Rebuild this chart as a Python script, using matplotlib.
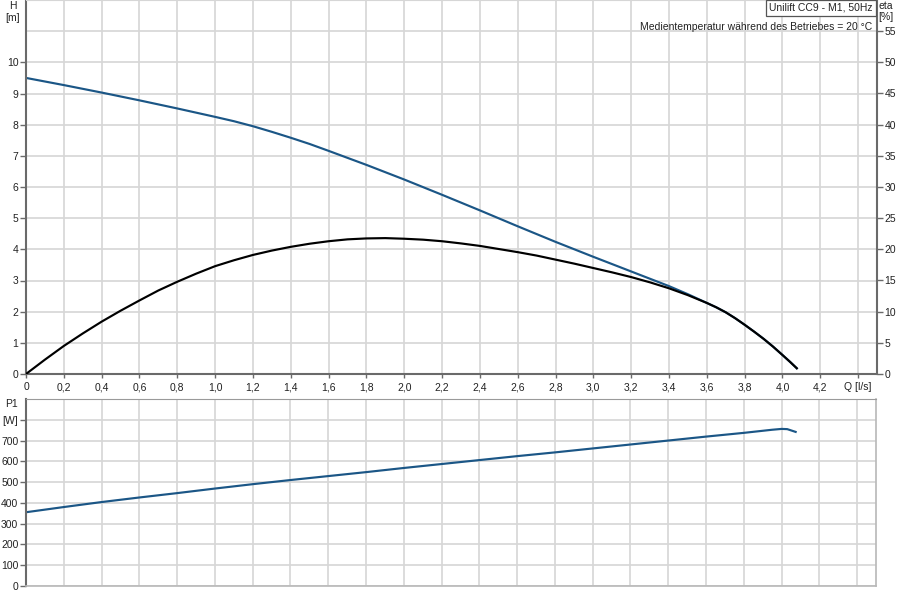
import matplotlib
matplotlib.use('Agg')
import matplotlib.pyplot as plt
import numpy as np

# ---------------- data ----------------
q_h = [0, 0.2, 0.4, 0.6, 0.8, 1.0, 1.1, 1.2, 1.3, 1.4, 1.5, 1.6, 1.8, 2.0,
       2.2, 2.4, 2.6, 2.8, 3.0, 3.2, 3.4, 3.5, 3.6, 3.65, 3.7, 3.75, 3.8,
       3.85, 3.9, 3.95, 4.0, 4.04, 4.08]
h_m = [9.5, 9.27, 9.03, 8.78, 8.52, 8.25, 8.11, 7.95, 7.77, 7.58, 7.38, 7.16,
       6.71, 6.24, 5.75, 5.25, 4.74, 4.24, 3.76, 3.29, 2.82, 2.56, 2.28, 2.14,
       1.98, 1.79, 1.58, 1.36, 1.13, 0.88, 0.61, 0.39, 0.16]

q_eta = [0, 0.1, 0.2, 0.3, 0.4, 0.5, 0.6, 0.7, 0.8, 0.9, 1.0, 1.1, 1.2, 1.3,
         1.4, 1.5, 1.6, 1.7, 1.8, 1.9, 2.0, 2.1, 2.2, 2.3, 2.4, 2.5, 2.6, 2.7,
         2.8, 2.9, 3.0, 3.1, 3.2, 3.3, 3.4, 3.5, 3.6, 3.65, 3.7, 3.75, 3.8,
         3.85, 3.9, 3.95, 4.0, 4.04, 4.08]
eta_pct = [0, 2.3, 4.5, 6.5, 8.4, 10.15, 11.8, 13.4, 14.8, 16.1, 17.3, 18.25,
           19.1, 19.8, 20.4, 20.9, 21.3, 21.6, 21.75, 21.8, 21.7, 21.55, 21.3,
           20.95, 20.55, 20.05, 19.55, 19.0, 18.35, 17.7, 17.0, 16.3, 15.55,
           14.7, 13.75, 12.65, 11.4, 10.7, 9.9, 8.95, 7.9, 6.8, 5.65, 4.4,
           3.05, 1.95, 0.8]

q_p = [0, 0.2, 0.4, 0.6, 0.8, 1.0, 1.2, 1.4, 1.6, 1.8, 2.0, 2.2, 2.4, 2.6,
       2.8, 3.0, 3.2, 3.4, 3.6, 3.8, 3.95, 4.0, 4.03, 4.08]
p1_w = [355, 380, 404, 426, 447, 469, 490, 510, 529, 548, 568, 587, 606, 625,
        643, 662, 681, 700, 719, 737, 752, 756, 755, 740]

q_ticks = [0, 0.2, 0.4, 0.6, 0.8, 1.0, 1.2, 1.4, 1.6, 1.8, 2.0, 2.2, 2.4, 2.6,
           2.8, 3.0, 3.2, 3.4, 3.6, 3.8, 4.0, 4.2, 4.4]
q_labels = ['0', '0,2', '0,4', '0,6', '0,8', '1,0', '1,2', '1,4', '1,6', '1,8',
            '2,0', '2,2', '2,4', '2,6', '2,8', '3,0', '3,2', '3,4', '3,6', '3,8',
            '4,0', '4,2', 'Q [l/s]']
h_ticks = [0, 1, 2, 3, 4, 5, 6, 7, 8, 9, 10]
h_labels = ['0', '1', '2', '3', '4', '5', '6', '7', '8', '9', '10']
h_extra_grid = [11]
eta_ticks = [0, 5, 10, 15, 20, 25, 30, 35, 40, 45, 50, 55]
p_ticks = [0, 100, 200, 300, 400, 500, 600, 700, 800]
p_labels = ['0', '100', '200', '300', '400', '500', '600', '700', '[W]']

title_box = 'Unilift CC9 - M1, 50Hz'
note = 'Medientemperatur während des Betriebes = 20 °C'

# ---------------- style ----------------
plt.rcParams['font.family'] = ['Liberation Sans', 'DejaVu Sans']
FS = 7.5
TXT = '#222222'
BLUE = '#1b5686'
GRID = '#d6d6d6'
SPINE = '#6a6a6a'
LIGHT = '#b8b8b8'
LW = 1.55

W, H = 900, 600
fig = plt.figure(figsize=(9, 6), dpi=100)
fig.patch.set_facecolor('white')


def rect(l, t, r, b):
    return [l / W, 1 - b / H, (r - l) / W, (b - t) / H]


# ---------------- top axes: H and eta ----------------
ax = fig.add_axes(rect(26, 0, 877, 374))
ax.set_xlim(0, 4.5)
ax.set_ylim(0, 12)
ax.set_xticks(q_ticks)
ax.set_xticklabels(q_labels, fontsize=FS, color=TXT)
ax.set_yticks(h_ticks)
ax.set_yticklabels(h_labels, fontsize=FS, color=TXT)
ax.set_yticks(h_extra_grid, minor=True)
ax.tick_params(axis='x', direction='out', length=3, width=1, color=SPINE, pad=3)
ax.tick_params(axis='y', which='major', direction='out', length=4, width=1,
               color=SPINE, pad=1.5)
ax.tick_params(axis='y', which='minor', length=0)
ax.grid(True, which='both', color=GRID, linewidth=1.2)
ax.set_axisbelow(True)
for s in ['left', 'bottom']:
    ax.spines[s].set_color(SPINE)
    ax.spines[s].set_linewidth(1.5)
ax.spines['top'].set_color(GRID)
ax.spines['right'].set_visible(False)
ax.plot(q_h, h_m, color=BLUE, lw=LW, solid_capstyle='butt', solid_joinstyle='round')

axe = ax.twinx()
axe.set_ylim(0, 60)
axe.set_yticks(eta_ticks)
axe.set_yticklabels([str(v) for v in eta_ticks], fontsize=FS, color=TXT)
axe.tick_params(axis='y', direction='out', length=4, width=1, color=SPINE, pad=1.5)
axe.spines['right'].set_color(SPINE)
axe.spines['right'].set_linewidth(1.5)
for s in ['left', 'top', 'bottom']:
    axe.spines[s].set_visible(False)
axe.plot(q_eta, eta_pct, color='black', lw=LW, solid_capstyle='butt',
         solid_joinstyle='round')


def fig_text(x, y, s, **kw):
    fig.text(x / W, 1 - y / H, s, fontsize=FS, color=TXT, **kw)


fig_text(13, 6, 'H', ha='center', va='center')
fig_text(13, 18, '[m]', ha='center', va='center')
fig_text(886, 6, 'eta', ha='center', va='center')
fig_text(886, 17, '[%]', ha='center', va='center')
fig_text(872, 27, note, ha='right', va='center')
fig.text(821 / W, 1 - 8 / H, title_box, fontsize=FS, color=TXT, ha='center', va='center',
         bbox=dict(boxstyle='square,pad=0.3', fc='white', ec='#555555', lw=0.9))

# ---------------- bottom axes: P1 ----------------
ax2 = fig.add_axes(rect(26, 399, 876, 586))
ax2.set_xlim(0, 4.5)
ax2.set_ylim(0, 900)
ax2.set_xticks(q_ticks)
ax2.set_xticklabels([])
ax2.tick_params(axis='x', length=0)
ax2.set_yticks(p_ticks)
ax2.set_yticklabels(p_labels, fontsize=FS, color=TXT)
ax2.tick_params(axis='y', direction='out', length=4, width=1, color=SPINE, pad=1.5)
ax2.grid(True, color=GRID, linewidth=1.2)
ax2.set_axisbelow(True)
ax2.spines['left'].set_color(SPINE)
ax2.spines['left'].set_linewidth(1.5)
ax2.spines['top'].set_color('#9a9a9a')
for s in ['right', 'bottom']:
    ax2.spines[s].set_color(LIGHT)
    ax2.spines[s].set_linewidth(1.2)
ax2.plot(q_p, p1_w, color=BLUE, lw=LW, solid_capstyle='butt', solid_joinstyle='round')
fig_text(12, 404, 'P1', ha='center', va='center')

fig.savefig('out.png', dpi=100, facecolor='white')
